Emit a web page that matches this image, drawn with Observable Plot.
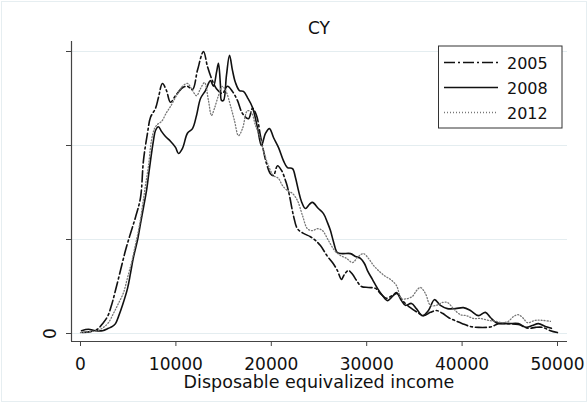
<!DOCTYPE html>
<html>
<head>
<meta charset="utf-8">
<script src="https://cdn.jsdelivr.net/npm/d3@7"></script>
<script src="https://cdn.jsdelivr.net/npm/@observablehq/plot@0.6"></script>
<style>
  body { margin: 0; background: #fff; }
  svg { display: block; }
</style>
</head>
<body>
<div id="chart"></div>
<script>
// Kernel density of disposable equivalized income, Cyprus (density in units of 1e-5)
const title = "CY";
const xLabel = "Disposable equivalized income";
const years = ["2005", "2008", "2012"];

// [income, density ×1e5]
const kd2005 = [[210,0.02],[1050,0.04],[1780,0.09],[2310,0.21],[2830,0.36],[3250,0.60],[3670,0.92],[4190,1.34],[4720,1.77],[5240,2.13],[5760,2.47],[6290,2.89],[6600,3.68],[7020,4.26],[7340,4.60],[7860,4.79],[8170,5.02],[8590,5.32],[9010,5.17],[9430,4.92],[9960,5.06],[10690,5.23],[11210,5.26],[11740,5.19],[12260,5.60],[12890,6.00],[13310,5.68],[13730,5.43],[14250,5.21],[14880,5.11],[15410,5.26],[15930,5.15],[16450,4.96],[16980,4.68],[17610,4.57],[18030,4.79],[18450,4.64],[18860,4.21],[19180,3.89],[19490,3.62],[19910,3.40],[20230,3.36],[20650,3.57],[21070,3.47],[21590,3.19],[21900,2.94],[22320,2.51],[22740,2.23],[23370,2.13],[24100,2.06],[24630,1.98],[25150,1.87],[25890,1.64],[26410,1.51],[26930,1.34],[27350,1.15],[27670,1.26],[28090,1.34],[28510,1.26],[28930,1.13],[29450,1.00],[30180,0.98],[30920,0.96],[31440,0.85],[32070,0.75],[32700,0.81],[33220,0.85],[33750,0.70],[34580,0.55],[35320,0.45],[35950,0.38],[36680,0.45],[37310,0.49],[37940,0.43],[38570,0.34],[39200,0.28],[40030,0.21],[40870,0.15],[41710,0.13],[42550,0.13],[43180,0.15],[43810,0.21],[44850,0.21],[45900,0.19],[46950,0.11],[47680,0.13],[48420,0.13],[49260,0.06],[49990,0.02]];

const kd2008 = [[110,0.06],[840,0.09],[1570,0.06],[2310,0.06],[2930,0.11],[3350,0.15],[3670,0.21],[3980,0.36],[4400,0.60],[4930,0.96],[5240,1.28],[5550,1.62],[5970,1.98],[6290,2.34],[6600,2.68],[6920,3.04],[7130,3.36],[7340,3.68],[7650,4.11],[7860,4.32],[8170,4.40],[8490,4.30],[8910,4.19],[9430,4.09],[9960,3.96],[10270,3.83],[10690,3.94],[11210,4.26],[11740,4.36],[12160,4.64],[12580,5.00],[13100,5.17],[13620,5.38],[13940,5.26],[14250,5.55],[14460,5.75],[14670,5.28],[14780,4.96],[14990,4.96],[15300,5.49],[15620,5.92],[15930,5.60],[16240,5.34],[16660,5.17],[17080,5.15],[17500,5.02],[18030,4.81],[18550,4.38],[18970,4.00],[19390,4.26],[19810,4.36],[20230,4.17],[20750,3.96],[21270,3.68],[21690,3.53],[22220,3.51],[22530,3.32],[22850,3.04],[23160,2.81],[23580,2.66],[24000,2.75],[24310,2.79],[24940,2.66],[25470,2.55],[25890,2.36],[26200,2.19],[26510,1.96],[26930,1.72],[27460,1.70],[28300,1.70],[28820,1.64],[29340,1.60],[29760,1.49],[30080,1.34],[30600,1.15],[31130,0.96],[31650,0.81],[32170,0.70],[32700,0.79],[33120,0.87],[33640,0.70],[34060,0.60],[34690,0.64],[35210,0.53],[35840,0.38],[36470,0.49],[37100,0.72],[37730,0.60],[38460,0.53],[39300,0.53],[40140,0.55],[40870,0.49],[41710,0.38],[42440,0.45],[42970,0.34],[43600,0.23],[44850,0.21],[45900,0.21],[46740,0.13],[47370,0.17],[48000,0.21],[48730,0.15],[49360,0.11]];

const kd2012 = [[0,0.02],[1050,0.04],[1780,0.06],[2410,0.13],[2930,0.23],[3460,0.43],[3980,0.64],[4510,0.87],[4930,1.19],[5350,1.51],[5760,1.89],[6180,2.30],[6500,2.72],[6810,3.15],[7130,3.57],[7440,4.11],[7760,4.36],[8070,4.45],[8490,4.51],[9010,4.70],[9430,4.83],[10060,5.06],[10690,5.26],[11210,5.32],[11630,5.21],[12160,5.06],[12580,5.21],[13000,5.34],[13410,4.96],[13730,4.64],[14040,4.79],[14460,5.06],[14880,5.26],[15300,5.13],[15720,4.85],[16140,4.53],[16560,4.21],[16980,4.36],[17500,4.74],[17920,4.70],[18340,4.43],[18760,4.21],[19180,3.89],[19700,3.57],[20230,3.36],[20750,3.30],[21170,3.15],[21690,3.04],[22220,2.98],[22740,2.83],[23270,2.51],[23790,2.23],[24310,2.19],[24840,2.23],[25360,2.19],[25990,1.98],[26620,1.77],[27250,1.66],[27880,1.60],[28510,1.51],[29130,1.64],[29660,1.70],[30180,1.60],[30710,1.45],[31230,1.34],[31860,1.23],[32490,1.15],[33120,1.02],[33640,0.74],[34170,0.74],[34790,0.79],[35210,0.91],[35630,0.98],[36160,0.85],[36680,0.60],[37310,0.60],[37940,0.66],[38460,0.66],[39090,0.53],[39820,0.40],[40450,0.38],[41190,0.32],[41920,0.32],[42760,0.28],[43490,0.26],[44230,0.23],[44850,0.26],[45380,0.36],[45900,0.40],[46430,0.32],[46850,0.23],[47680,0.28],[48420,0.28],[49260,0.26]];

const xTicks = [0, 10000, 20000, 30000, 40000, 50000];
const yTicks = [0, 2, 4, 6];
const yTickLabels = ["0"];

const series = {"2005": kd2005, "2008": kd2008, "2012": kd2012};
const styles = {
  "2005": {stroke: "#111", strokeWidth: 1.6, strokeDasharray: "11,3,2,3"},
  "2008": {stroke: "#111", strokeWidth: 1.6, strokeDasharray: null},
  "2012": {stroke: "#777", strokeWidth: 1.3, strokeDasharray: "1,2"}
};
const rowsFor = y => series[y].map(([income, density]) => ({year: y, income, density}));

const W = 588, H = 403;
const font = "DejaVu Sans";
const xDomain = [-943, 51048];
const yDomain = [-0.17, 6.213];

const lineMarks = years.map(y => Plot.line(rowsFor(y), {
  x: "income", y: "density", curve: "catmull-rom",
  stroke: styles[y].stroke, strokeWidth: styles[y].strokeWidth,
  strokeDasharray: styles[y].strokeDasharray, strokeLinejoin: "round"
}));

const chart = Plot.plot({
  width: W, height: H,
  marginLeft: 71, marginRight: 21, marginTop: 41, marginBottom: 62,
  style: {fontFamily: font, background: "#fff", color: "#111"},
  x: {domain: xDomain},
  y: {domain: yDomain},
  marks: [
    Plot.gridY(yTicks, {stroke: "#e4edf0", strokeOpacity: 1, strokeWidth: 1}),
    ...lineMarks,
    Plot.ruleX([xDomain[0]], {stroke: "#444", strokeWidth: 1.2}),
    Plot.ruleY([yDomain[0]], {stroke: "#444", strokeWidth: 1.2}),
    Plot.axisX(xTicks, {tickSize: 5, tickPadding: 11, fontSize: 17, stroke: "#444", label: null, tickFormat: d => String(d)}),
    Plot.axisY(yTicks, {tickSize: 5, tickFormat: () => "", stroke: "#444", label: null}),
    Plot.text(yTickLabels, {x: xDomain[0], y: d => +d, text: d => d, rotate: -90, dx: -21, fontSize: 17, textAnchor: "middle", lineAnchor: "middle", fill: "#111"})
  ]
});

const svg = d3.select(chart);

// outer graph-region border
svg.insert("rect", ":first-child")
  .attr("x", 1.5).attr("y", 1.5).attr("width", W - 3).attr("height", H - 3)
  .attr("fill", "#fff").attr("stroke", "#e6eef1");

svg.append("text").attr("x", 319).attr("y", 34).attr("text-anchor", "middle")
  .attr("font-family", font).attr("font-size", 17).attr("fill", "#111").text(title);

svg.append("text").attr("x", 319).attr("y", 388).attr("text-anchor", "middle")
  .attr("font-family", font).attr("font-size", 17.5).attr("fill", "#111").text(xLabel);

// legend
const lg = svg.append("g");
lg.append("rect").attr("x", 438.5).attr("y", 46).attr("width", 123.5).attr("height", 82)
  .attr("fill", "#fff").attr("stroke", "#333").attr("stroke-width", 1);
years.forEach((y, i) => {
  const cy = 62.5 + i * 25;
  const s = styles[y];
  lg.append("line").attr("x1", 444).attr("x2", 498).attr("y1", cy).attr("y2", cy)
    .attr("stroke", s.stroke).attr("stroke-width", s.strokeWidth)
    .attr("stroke-dasharray", s.strokeDasharray);
  lg.append("text").attr("x", 507).attr("y", cy + 6).attr("text-anchor", "start")
    .attr("font-family", font).attr("font-size", 16).attr("fill", "#111").text(y);
});

document.getElementById("chart").appendChild(chart);
</script>
</body>
</html>
